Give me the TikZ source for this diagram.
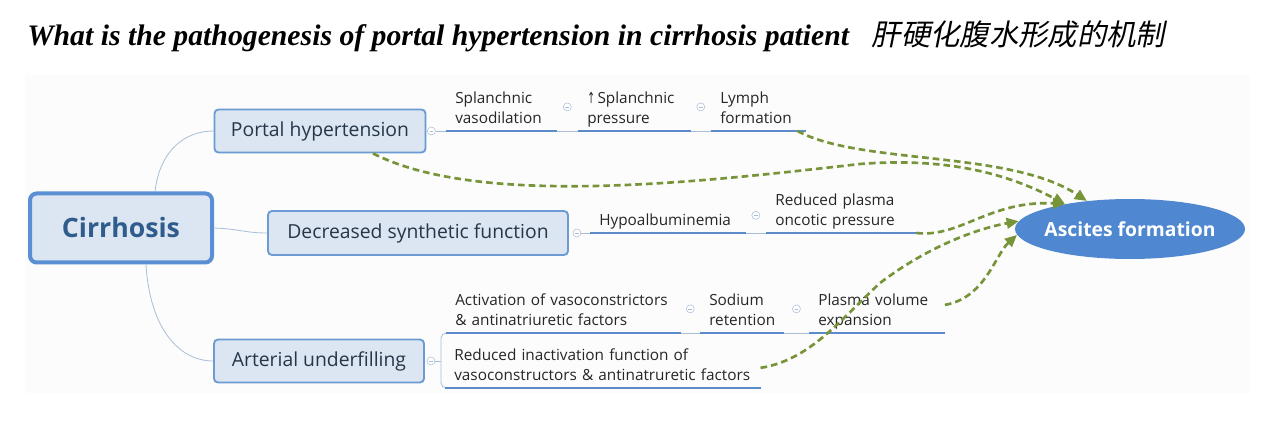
\documentclass[tikz,border=0pt]{standalone}
\usepackage{fontspec}
\setmainfont{Liberation Serif}
\newfontfamily\mapfont{Open Sans}
\newfontfamily\arrowfont{DejaVu Sans}
\newfontfamily\cjkfont[FakeSlant=0.2]{Noto Sans CJK SC}
\usetikzlibrary{arrows.meta,calc,shapes.geometric}

\definecolor{boxfill}{HTML}{DCE6F2}
\definecolor{boxline}{HTML}{6C9AD2}
\definecolor{boxtext}{HTML}{263648}
\definecolor{rootline}{HTML}{5A8FD3}
\definecolor{roottext}{HTML}{2F5C8C}
\definecolor{twigcol}{HTML}{A8BED8}
\definecolor{ulcol}{HTML}{5B8BC9}
\definecolor{ascfill}{HTML}{4F88D0}
\definecolor{arrgreen}{HTML}{779438}

\newcommand\leaffont{\mapfont\fontsize{11.5}{15}\selectfont\hyphenpenalty=10000}

\tikzset{
  topic/.style={draw=boxline, line width=1.4pt, fill=boxfill, rounded corners=3pt,
    text=boxtext, font=\mapfont\fontsize{14.5}{17}\selectfont,
    minimum height=32.25pt, inner sep=0pt},
  root/.style={draw=rootline, line width=3pt, fill=boxfill, rounded corners=5pt,
    text=roottext, font=\mapfont\bfseries\fontsize{20}{24}\selectfont,
    minimum width=136.5pt, minimum height=51.75pt},
  leaf/.style={anchor=south west, align=left, inner xsep=6.75pt, inner ysep=0.75pt,
    text=black!85, font=\leaffont, execute at end node=\strut},
  twig/.style={draw=twigcol, line width=0.6pt},
  uline/.style={draw=ulcol, line width=2pt},
  fold/.style={circle, draw=twigcol, fill=white, minimum size=6pt, inner sep=0pt,
    path picture={\draw[twigcol, line width=0.5pt]
      ([xshift=1.6pt]path picture bounding box.west) --
      ([xshift=-1.6pt]path picture bounding box.east);}},
  link/.style={draw=arrgreen, line width=2pt, dash pattern=on 5pt off 3pt,
    -{Triangle[length=9pt,width=8pt]}},
}

\begin{document}
\begin{tikzpicture}[x=0.75pt, y=-0.75pt]
  \useasboundingbox (0,0) rectangle (1269,427);
  \fill[black!1] (25,75) rectangle (1250,393);

  % title
  \node[anchor=base west, inner sep=0pt, font=\bfseries\itshape\fontsize{22.3}{26}\selectfont]
    (ttl) at (27,46) {What is the pathogenesis of portal hypertension in cirrhosis patient};
  \node[anchor=base west, inner sep=0pt, font=\cjkfont\fontsize{22}{26}\selectfont]
    (ttlcn) at ($(ttl.base east)+(22,0)$) {肝硬化腹水形成的机制};

  % main topics
  \node[root] (cir) at (121,228) {Cirrhosis};
  \node[topic, minimum width=158.25pt] (ph) at (320,131) {Portal hypertension};
  \node[topic, minimum width=225pt, minimum height=33pt] (dsf) at (418,233) {Decreased synthetic function};
  \node[topic, minimum width=157.5pt] (au) at (319,361) {Arterial underfilling};

  \node[ellipse, fill=ascfill, text=white, inner sep=0pt, minimum width=172.5pt, minimum height=45pt,
    font=\mapfont\bfseries\fontsize{14.5}{17}\selectfont] (asc) at (1130,229) {\makebox[0pt]{Ascites formation}};

  % leaves
  \node[leaf, text width=69pt] (spl) at (446,131) {Splanchnic\\vasodilation};
  \node[leaf, text width=70.5pt] (spp) at (578,131) {{\arrowfont\scalebox{0.6}[1]{↑}}\,Splanchnic\\pressure};
  \node[leaf, text width=57pt] (lym) at (711,131) {Lymph\\formation};
  \node[leaf, text width=102.75pt] (hyp) at (590,233) {Hypoalbuminemia};
  \node[leaf, text width=100.5pt] (rpo) at (766,233) {Reduced plasma\\oncotic pressure};
  \node[leaf, text width=162pt] (act) at (446,333) {Activation of vasoconstrictors\\\& antinatriuretic factors};
  \node[leaf, text width=49pt] (sod) at (700,333) {Sodium\\retention};
  \node[leaf, text width=88pt] (pve) at (809,333) {Plasma volume\\expansion};
  \node[leaf, text width=222.75pt] (ria) at (445,388) {Reduced inactivation function of\\vasoconstructors \& antinatruretic factors};

  % branches
  \draw[twig] ($(cir.north)+(34,0)$) .. controls (160,150) and (185,131) .. (ph.west);
  \draw[twig] (cir.east) .. controls (240,229) and (245,233) .. (dsf.west);
  \draw[twig] ($(cir.south)+(25,0)$) .. controls (150,330) and (180,361) .. (au.west);

  \node[fold] (f1) at ($(ph.east)+(5,0)$) {};
  \node[fold] (f2) at ($(dsf.east)+(8,0)$) {};
  \node[fold] (f3) at ($(au.east)+(6,0)$) {};

  \draw[twig] (f1.east) -- (lym.south east);
  \draw[twig] (f2.east) -- (rpo.south east);
  \draw[twig] (act.south west) -- (pve.south east);
  \draw[twig] (f3.east) -- ($(f3)+(10,0)$);
  \draw[twig, rounded corners=4pt] (act.south west) -| ($(f3)+(10,0)$) |- (ria.south west);

  \foreach \n in {spl,spp,lym,hyp,rpo,act,sod,pve,ria}
    \draw[uline] (\n.south west) -- (\n.south east);

  \node[fold] at ($(spl.east)!0.5!(spp.west)+(0,-4)$) {};
  \node[fold] at ($(spp.east)!0.5!(lym.west)+(0,-4)$) {};
  \node[fold] at ($(hyp.east)!0.5!(rpo.west)+(0,-2)$) {};
  \node[fold] at ($(act.east)!0.5!(sod.west)+(0,-4)$) {};
  \node[fold] at ($(sod.east)!0.5!(pve.west)+(0,-4)$) {};

  % links to ascites
  \draw[link] ($(lym.south east)+(-8,0)$) .. controls (860,165) and (1010,150) .. (asc.147);
  \draw[link] ($(ph.south)+(53,0)$) .. controls (480,208) and (700,182) .. (860,164)
    .. controls (950,157) and (1010,175) .. (asc.159);
  \draw[link] ($(rpo.south east)+(-2,0)$) .. controls (960,238) and (990,200) .. (asc.159);
  \draw[link] ($(pve.east)+(0,-8)$) .. controls (985,298) and (995,255) .. (asc.183);
  \draw[link] (ria.east) .. controls (810,360) and (840,320) .. (880,283)
    .. controls (930,245) and (980,228) .. (asc.176);
\end{tikzpicture}
\end{document}
